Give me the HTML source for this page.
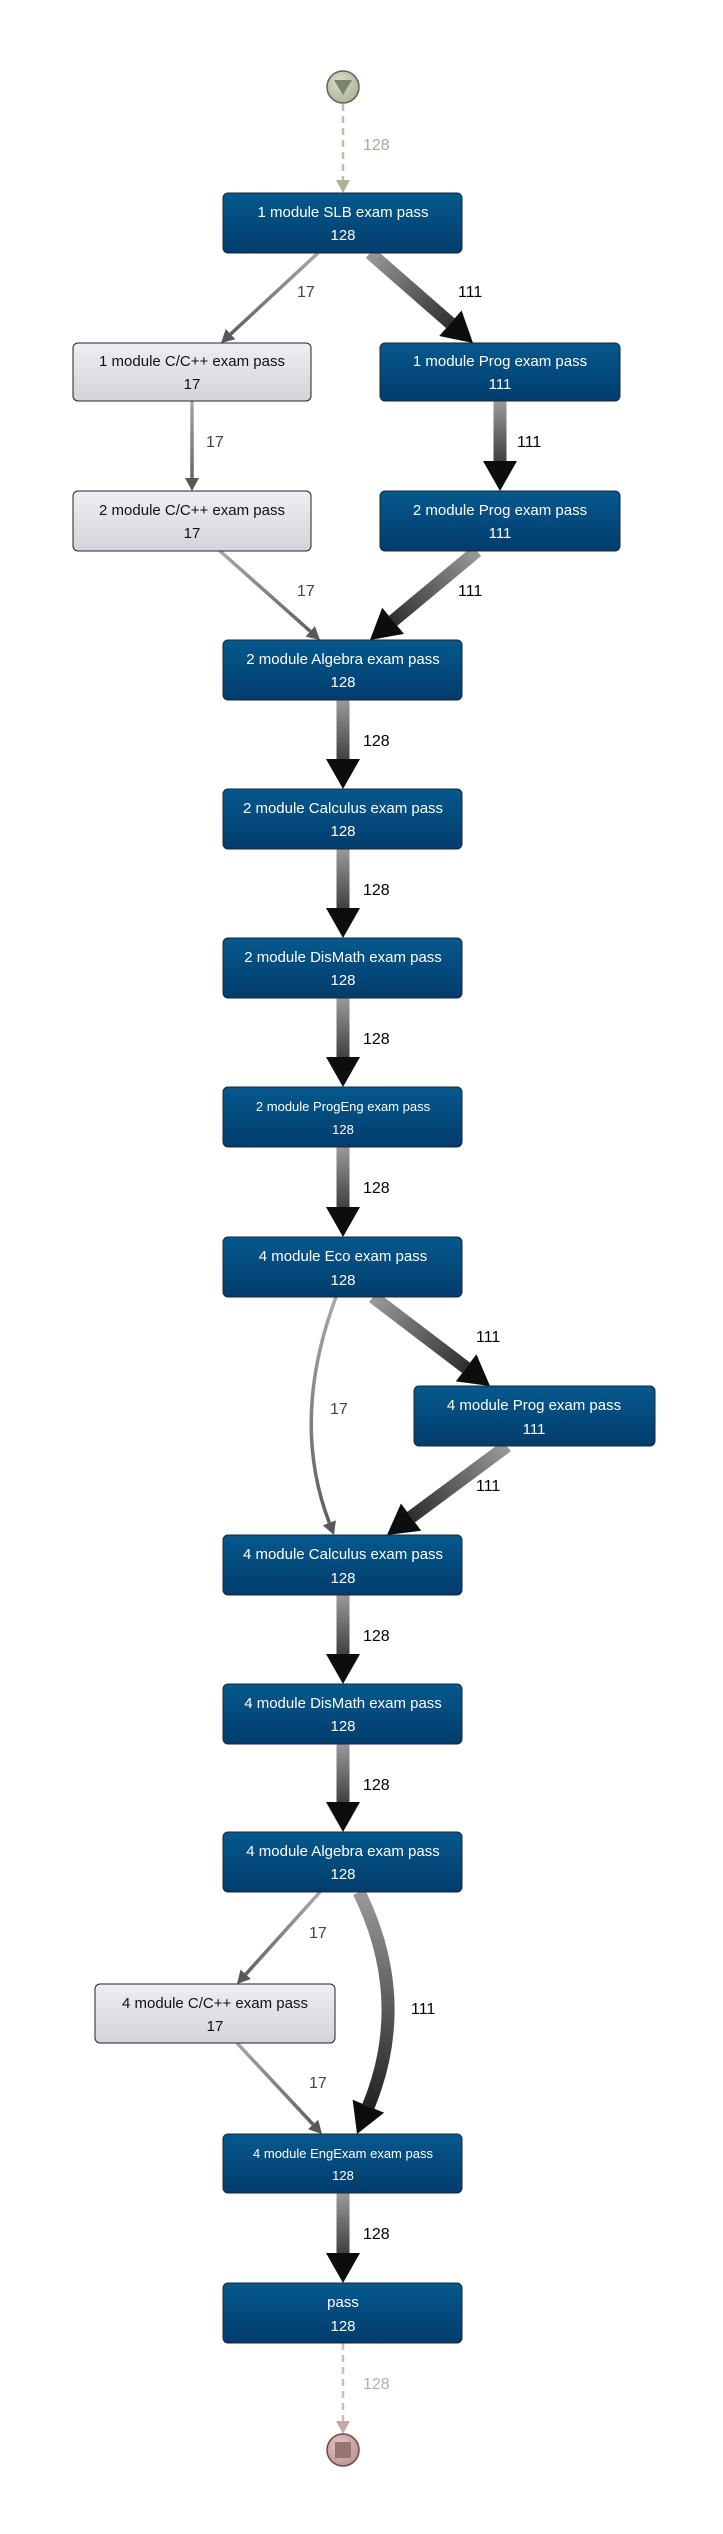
<!DOCTYPE html>
<html><head><meta charset="utf-8"><style>
html,body{margin:0;padding:0;background:#fff;}
svg{display:block;font-family:"Liberation Sans",sans-serif;}
</style></head><body>
<svg id="s" width="723" height="2534" viewBox="0 0 723 2534" xmlns="http://www.w3.org/2000/svg">
<defs>
<linearGradient id="blue" x1="0" y1="0" x2="0" y2="1"><stop offset="0" stop-color="#05598e"/><stop offset="1" stop-color="#023c6c"/></linearGradient>
<linearGradient id="gray" x1="0" y1="0" x2="0" y2="1"><stop offset="0" stop-color="#f0eef4"/><stop offset="1" stop-color="#d5d2d9"/></linearGradient>
<radialGradient id="sg" cx="0.4" cy="0.35" r="0.7"><stop offset="0" stop-color="#d9dfcb"/><stop offset="1" stop-color="#a9b395"/></radialGradient>
<radialGradient id="eg" cx="0.4" cy="0.35" r="0.7"><stop offset="0" stop-color="#e3c7c5"/><stop offset="1" stop-color="#b89391"/></radialGradient>
</defs>
<g id="edges"></g>
<g id="nodes" font-size="15" text-anchor="middle">
<circle cx="343" cy="87" r="16" fill="url(#sg)" stroke="#5d6650" stroke-width="1.5"/>
<polygon points="334,80 352,80 343,95" fill="#7d866d"/>
<circle cx="343" cy="2450" r="16" fill="url(#eg)" stroke="#6e4c4a" stroke-width="1.5"/>
<rect x="335" y="2442" width="16" height="16" fill="#967472"/>

<g fill="#fff">
<rect x="223" y="193" width="239" height="60" rx="5" fill="url(#blue)" stroke="#1b2633"/>
<text x="343" y="217">1 module SLB exam pass</text><text x="343" y="240">128</text>
<rect x="380" y="343" width="240" height="58" rx="5" fill="url(#blue)" stroke="#1b2633"/>
<text x="500" y="366">1 module Prog exam pass</text><text x="500" y="389">111</text>
<rect x="380" y="491" width="240" height="60" rx="5" fill="url(#blue)" stroke="#1b2633"/>
<text x="500" y="515">2 module Prog exam pass</text><text x="500" y="538">111</text>
<rect x="223" y="640" width="239" height="60" rx="5" fill="url(#blue)" stroke="#1b2633"/>
<text x="343" y="664">2 module Algebra exam pass</text><text x="343" y="687">128</text>
<rect x="223" y="789" width="239" height="60" rx="5" fill="url(#blue)" stroke="#1b2633"/>
<text x="343" y="813">2 module Calculus exam pass</text><text x="343" y="836">128</text>
<rect x="223" y="938" width="239" height="60" rx="5" fill="url(#blue)" stroke="#1b2633"/>
<text x="343" y="962">2 module DisMath exam pass</text><text x="343" y="985">128</text>
<rect x="223" y="1087" width="239" height="60" rx="5" fill="url(#blue)" stroke="#1b2633"/>
<text x="343" y="1111" font-size="13">2 module ProgEng exam pass</text><text x="343" y="1134" font-size="13">128</text>
<rect x="223" y="1237" width="239" height="60" rx="5" fill="url(#blue)" stroke="#1b2633"/>
<text x="343" y="1261">4 module Eco exam pass</text><text x="343" y="1285">128</text>
<rect x="414" y="1386" width="241" height="60" rx="5" fill="url(#blue)" stroke="#1b2633"/>
<text x="534" y="1410">4 module Prog exam pass</text><text x="534" y="1434">111</text>
<rect x="223" y="1535" width="239" height="60" rx="5" fill="url(#blue)" stroke="#1b2633"/>
<text x="343" y="1559">4 module Calculus exam pass</text><text x="343" y="1583">128</text>
<rect x="223" y="1684" width="239" height="60" rx="5" fill="url(#blue)" stroke="#1b2633"/>
<text x="343" y="1708">4 module DisMath exam pass</text><text x="343" y="1731">128</text>
<rect x="223" y="1832" width="239" height="60" rx="5" fill="url(#blue)" stroke="#1b2633"/>
<text x="343" y="1856">4 module Algebra exam pass</text><text x="343" y="1879">128</text>
<rect x="223" y="2134" width="239" height="59" rx="5" fill="url(#blue)" stroke="#1b2633"/>
<text x="343" y="2158" font-size="13">4 module EngExam exam pass</text><text x="343" y="2180" font-size="13">128</text>
<rect x="223" y="2283" width="239" height="60" rx="5" fill="url(#blue)" stroke="#1b2633"/>
<text x="343" y="2307">pass</text><text x="343" y="2331">128</text>
</g>
<g fill="#111">
<rect x="73" y="343" width="238" height="58" rx="5" fill="url(#gray)" stroke="#222"/>
<text x="192" y="366">1 module C/C++ exam pass</text><text x="192" y="389">17</text>
<rect x="73" y="491" width="238" height="60" rx="5" fill="url(#gray)" stroke="#222"/>
<text x="192" y="515">2 module C/C++ exam pass</text><text x="192" y="538">17</text>
<rect x="95" y="1984" width="240" height="59" rx="5" fill="url(#gray)" stroke="#222"/>
<text x="215" y="2008">4 module C/C++ exam pass</text><text x="215" y="2031">17</text>
</g>
</g>
<g font-size="16">
<text x="363" y="150" fill="#a3ad90">128</text>
<text x="297" y="297" fill="#444">17</text>
<text x="458" y="297" fill="#000">111</text>
<text x="206" y="447" fill="#444">17</text>
<text x="517" y="447" fill="#000">111</text>
<text x="297" y="596" fill="#444">17</text>
<text x="458" y="596" fill="#000">111</text>
<text x="363" y="746" fill="#000">128</text>
<text x="363" y="895" fill="#000">128</text>
<text x="363" y="1044" fill="#000">128</text>
<text x="363" y="1193" fill="#000">128</text>
<text x="476" y="1342" fill="#000">111</text>
<text x="330" y="1414" fill="#444">17</text>
<text x="476" y="1491" fill="#000">111</text>
<text x="363" y="1641" fill="#000">128</text>
<text x="363" y="1790" fill="#000">128</text>
<text x="309" y="1938" fill="#444">17</text>
<text x="411" y="2014" fill="#000">111</text>
<text x="309" y="2088" fill="#444">17</text>
<text x="363" y="2239" fill="#000">128</text>
<text x="363" y="2389" fill="#c1a9a7">128</text>
</g>
</svg>
<script>
(function(){
var NS="http://www.w3.org/2000/svg",g=document.getElementById("edges"),defs=document.querySelector("defs"),n=0;
function el(t,a,p){var e=document.createElementNS(NS,t);for(var k in a)e.setAttribute(k,a[k]);(p||g).appendChild(e);return e;}
function grad(x1,y1,x2,y2,c1,c2){var id="eg"+(n++);var lg=el("linearGradient",{id:id,gradientUnits:"userSpaceOnUse",x1:x1,y1:y1,x2:x2,y2:y2},defs);
el("stop",{offset:0,"stop-color":c1},lg);el("stop",{offset:1,"stop-color":c2},lg);return "url(#"+id+")";}
function edge(x1,y1,x2,y2,thick,cx,cy){
 var w=thick?13:3.5,hl=thick?30:13,hw=thick?17:7;
 var px=cx!==undefined?cx:x1,py=cy!==undefined?cy:y1;
 var dx=x2-px,dy=y2-py,L=Math.sqrt(dx*dx+dy*dy);dx/=L;dy/=L;
 var bx=x2-dx*hl,by=y2-dy*hl;
 var c1=thick?"#9a9a9a":"#a8a8a8",c2=thick?"#141414":"#5a5a5a";
 var st=grad(x1,y1,x2,y2,c1,c2);
 var d=cx!==undefined?"M"+x1+","+y1+" Q"+cx+","+cy+" "+bx+","+by:"M"+x1+","+y1+" L"+bx+","+by;
 el("path",{d:d,fill:"none",stroke:st,"stroke-width":w});
 var nx=-dy,ny=dx;
 el("polygon",{points:x2+","+y2+" "+(bx+nx*hw)+","+(by+ny*hw)+" "+(bx-nx*hw)+","+(by-ny*hw),fill:thick?"#0d0d0d":"#585858"});
}
function dash(x1,y1,x2,y2,c,hc){
 el("line",{x1:x1,y1:y1,x2:x2,y2:y2-12,stroke:c,"stroke-width":2.5,"stroke-dasharray":"7,5"});
 el("polygon",{points:x2+","+y2+" "+(x2-7)+","+(y2-13)+" "+(x2+7)+","+(y2-13),fill:hc});
}
dash(343,104,343,193,"#b8c2a8","#a9b395");
edge(318,253,221,343,false);
edge(370,253,473,343,true);
edge(192,401,192,491,false);
edge(500,401,500,491,true);
edge(220,551,320,640,false);
edge(477,551,370,640,true);
[[700,789],[849,938],[998,1087],[1147,1237],[1595,1684],[1744,1832],[2193,2283]].forEach(function(p){edge(343,p[0],343,p[1],true);});
edge(373,1297,490,1386,true);
edge(507,1446,387,1535,true);
edge(336,1297,334,1535,false,290,1420);
edge(320,1892,237,1984,false);
edge(237,2043,322,2134,false);
edge(359,1892,357,2134,true,412,2000);
dash(343,2343,343,2434,"#d2bcba","#c4a9a7");
})();
</script>
</body></html>
